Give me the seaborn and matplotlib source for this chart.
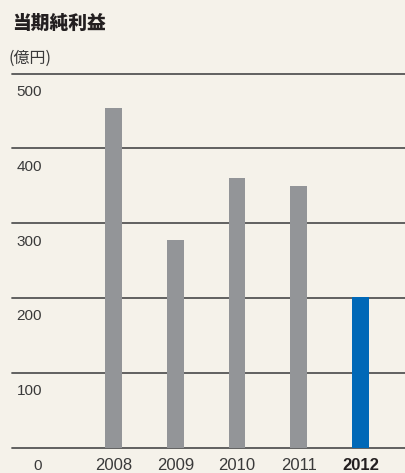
import matplotlib
matplotlib.use("Agg")
import matplotlib.pyplot as plt
import matplotlib.transforms as mtransforms
import pandas as pd
import seaborn as sns

# Net income by fiscal year (100 million yen)
years = ["2008", "2009", "2010", "2011", "2012"]
net_income = [454, 278, 360, 350, 201]
y_ticks = [0, 100, 200, 300, 400, 500]
title = "当期純利益"
unit = "(億円)"

bg = "#f5f2ea"
bar_gray = "#939598"
bar_blue = "#0068b7"
text_dark = "#231f20"
grid_color = "#555555"

sns.set_theme(style="white")
plt.rcParams["font.family"] = ["Liberation Sans", "Noto Sans CJK JP", "DejaVu Sans"]

W, H = 406, 473
fig = plt.figure(figsize=(W / 100, H / 100), dpi=100, facecolor=bg)

# axes placed in pixel coordinates
x0, x1 = 12, 406
y_zero, y_top = 447.5, 73.5
ax = fig.add_axes([x0 / W, (H - y_zero) / H, (x1 - x0) / W, (y_zero - y_top) / H])
ax.set_facecolor(bg)

df = pd.DataFrame({"year": years, "value": net_income})
df["latest"] = df["year"] == years[-1]
sns.barplot(data=df, x="year", y="value", hue="latest",
            palette={False: bar_gray, True: bar_blue}, legend=False,
            width=0.275, saturation=1, ax=ax, zorder=3,
            edgecolor="none", linewidth=0)

step = 61.75
ax.set_xlim(-(113.5 - x0) / step, len(years) - 1 + (x1 - 360.5) / step)
ax.set_ylim(0, 500)

for s in ax.spines.values():
    s.set_visible(False)
ax.set_xlabel("")
ax.set_ylabel("")
ax.set_xticks([])
ax.set_yticks([])

for t in y_ticks:
    ax.axhline(t, color=grid_color, lw=1.3, zorder=1, clip_on=False)

# y values sit just below each grid line, right-aligned
trans_y = mtransforms.blended_transform_factory(fig.transFigure, ax.transData)
off = mtransforms.ScaledTranslation(0, -18.5 / 100, fig.dpi_scale_trans)
for t in y_ticks:
    ax.text(42 / W, t, str(t), transform=trans_y + off, ha="right", va="center",
            fontsize=11, color="#3a3a3a")

# year labels under the bars
trans_x = mtransforms.blended_transform_factory(ax.transData, fig.transFigure)
for i, yr in enumerate(years):
    last = i == len(years) - 1
    ax.text(i, (H - 465) / H, yr, transform=trans_x, ha="center", va="center",
            fontsize=12, color=text_dark if last else "#3a3a3a",
            fontweight="bold" if last else "normal")

fig.text(12 / W, (H - 23) / H, title, ha="left", va="center", fontsize=13.5,
         fontweight=900, color=text_dark, family=["Noto Sans CJK JP", "DejaVu Sans"])
fig.text(8 / W, (H - 58) / H, unit, ha="left", va="center", fontsize=11.5,
         color="#3a3a3a", family=["Noto Sans CJK JP", "DejaVu Sans"])

fig.savefig("out.png", dpi=100, facecolor=bg)
